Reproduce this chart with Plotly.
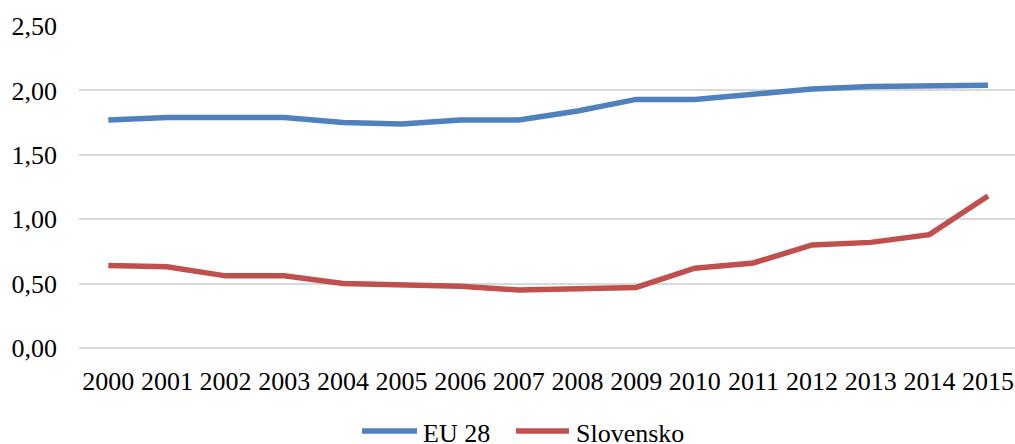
import plotly.graph_objects as go

years = ["2000", "2001", "2002", "2003", "2004", "2005", "2006", "2007",
         "2008", "2009", "2010", "2011", "2012", "2013", "2014", "2015"]
eu28 = [1.77, 1.79, 1.79, 1.79, 1.75, 1.74, 1.77, 1.77,
        1.84, 1.93, 1.93, 1.97, 2.01, 2.03, 2.04, 2.04]
slovensko = [0.64, 0.63, 0.56, 0.56, 0.50, 0.49, 0.48, 0.45,
             0.46, 0.47, 0.62, 0.66, 0.80, 0.82, 0.88, 1.18]
y_ticks = [0, 0.5, 1.0, 1.5, 2.0, 2.5]
series_names = ["EU 28", "Slovensko"]
series_colors = ["#4F81BD", "#C0504D"]

FONT = "Liberation Serif"

fig = go.Figure()
for name, vals, col in zip(series_names, [eu28, slovensko], series_colors):
    fig.add_trace(go.Scatter(x=years, y=vals, mode="lines", name=name,
                             line=dict(color=col, width=5.5)))

# custom legend below the plot (keys + labels)
leg_y = -0.258
leg_keys = [(0.3024, 0.3611), (0.4669, 0.5235)]
leg_text_x = [0.3654, 0.5288]
for (x0, x1), tx, name, col in zip(leg_keys, leg_text_x, series_names, series_colors):
    fig.add_shape(type="line", xref="paper", yref="paper", x0=x0, x1=x1,
                  y0=leg_y, y1=leg_y, line=dict(color=col, width=5.5))
    fig.add_annotation(xref="paper", yref="paper", x=tx, y=-0.266,
                       xanchor="left", yanchor="middle", text=name,
                       showarrow=False,
                       font=dict(family=FONT, size=26, color="#000000"))

fig.update_layout(
    width=1015, height=444,
    margin=dict(l=79, r=0, t=26, b=96),
    paper_bgcolor="white", plot_bgcolor="white",
    separators=",.",
    font=dict(family=FONT, size=26, color="#000000"),
    showlegend=False,
)
fig.update_xaxes(type="category", range=[-0.5, 15.46], showgrid=False,
                 showline=False, zeroline=False, ticks="", automargin=False,
                 ticklabelstandoff=15,
                 tickfont=dict(family=FONT, size=26, color="#000000"))
fig.update_yaxes(range=[0, 2.5], tickvals=y_ticks, tickformat=".2f",
                 showgrid=True, gridcolor="#D9D9D9", gridwidth=1.5,
                 zeroline=True, zerolinecolor="#D9D9D9", zerolinewidth=1.5,
                 showline=False, ticks="", ticklabelstandoff=21, automargin=False,
                 tickfont=dict(family=FONT, size=26, color="#000000"))

# remove the default page margin / scrollbars so the figure fills the window exactly
fig.write_html("out.html",
               config={"displayModeBar": False},
               post_script="document.body.style.margin='0';"
                           "document.body.style.overflow='hidden';")
